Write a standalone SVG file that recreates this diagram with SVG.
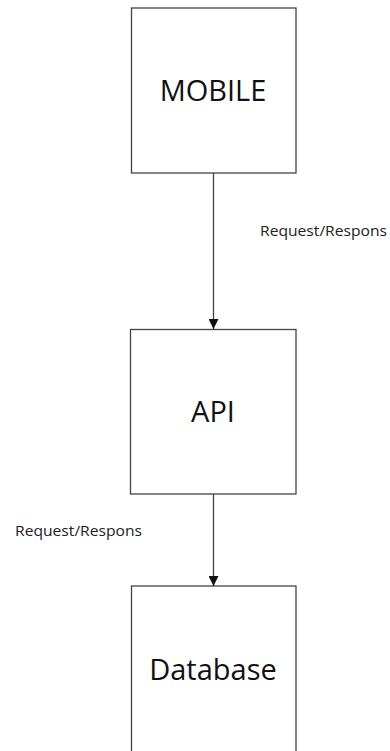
<svg xmlns="http://www.w3.org/2000/svg" width="390" height="751" viewBox="0 0 390 751">
<style>
.box{fill:#fff;stroke:#444;stroke-width:1.3}
.title{font-family:"Open Sans","Noto Sans",sans-serif;font-size:29px;fill:#111;text-anchor:middle}
.lbl{font-family:"Open Sans","Noto Sans",sans-serif;font-size:14.5px;fill:#222}
.edge{stroke:#444;stroke-width:1.3;fill:none}
</style>
<defs>
<marker id="arr" viewBox="0 0 10 10" refX="10" refY="5" markerWidth="10" markerHeight="10" markerUnits="userSpaceOnUse" orient="auto">
<path d="M0,0 L10,5 L0,10 Z" fill="#111"/>
</marker>
</defs>
<rect width="390" height="751" fill="#fff"/>
<g id="mobile">
<rect class="box" x="131.5" y="8" width="164.5" height="165"/>
<text class="title" x="213" y="101">MOBILE</text>
</g>
<g id="api">
<rect class="box" x="130.5" y="329.5" width="165.5" height="164.5"/>
<text class="title" x="213" y="422">API</text>
</g>
<g id="database">
<rect class="box" x="131.5" y="586" width="164.5" height="175"/>
<text class="title" x="213" y="680">Database</text>
</g>
<g id="connectors">
<line class="edge" x1="213.5" y1="173" x2="213.5" y2="329" marker-end="url(#arr)"/>
<line class="edge" x1="213.5" y1="494" x2="213.5" y2="586" marker-end="url(#arr)"/>
<text class="lbl" x="260" y="236" textLength="127" lengthAdjust="spacingAndGlyphs">Request/Respons</text>
<text class="lbl" x="15" y="536" textLength="127" lengthAdjust="spacingAndGlyphs">Request/Respons</text>
</g>
</svg>
